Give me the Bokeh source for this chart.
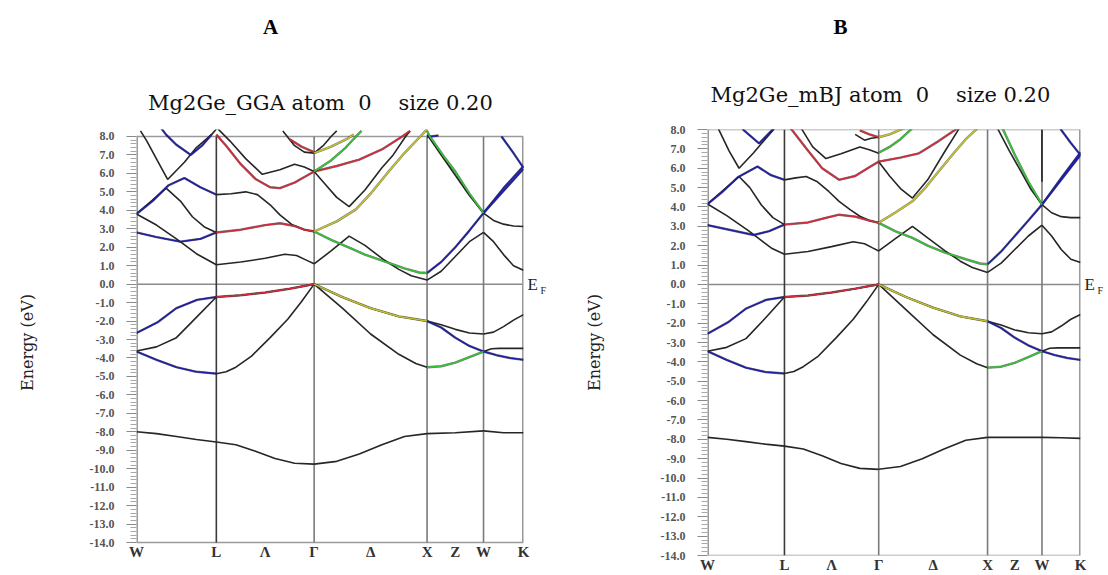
import numpy as np
from bokeh.plotting import figure
from bokeh.layouts import row
from bokeh.models import (Range1d, FixedTicker, LinearAxis, PrintfTickFormatter, Span)
from bokeh.embed import file_html
from bokeh.resources import INLINE

# ---------------- data ----------------
KLABELS = ["W", "L", "Λ", "Γ", "Δ", "X", "Z", "W", "K"]
KPOS = [0.0, 0.707, 1.140, 1.573, 2.073, 2.573, 2.823, 3.073, 3.427]
SEGMENTS = {"WL": (0, 1), "LG": (1, 3), "GX": (3, 5), "XW": (5, 7), "WK": (7, 8)}
SYM_LINES = [0.707, 1.573, 2.573, 3.073]
YTICKS = [float(v) for v in range(-14, 9)]
YMINOR = [v / 5 for v in range(-70, 41) if v % 5 != 0]

TITLES = ["A", "B"]
NB = "\u00a0"
SUBTITLES = ["Mg2Ge_GGA atom" + NB * 2 + "0" + NB * 4 + "size 0.20",
             "Mg2Ge_mBJ atom" + NB * 2 + "0" + NB * 4 + "size 0.20"]
YLABEL = "Energy (eV)"
FERMI = ["E", "F"]

# each piece: (character, fractions along the segment, energies in eV)
GGA_WL = [
    ("k", [0, .25, .5, .75, 1], [-8.0, -8.1, -8.25, -8.42, -8.55]),
    ("b", [0, .27, .5, .76, 1], [-2.65, -2.05, -1.3, -0.85, -0.7]),
    ("k", [0, .25, .5, .75, 1], [-3.62, -3.4, -2.9, -1.8, -0.7]),
    ("b", [0, .25, .5, .75, 1], [-3.65, -4.1, -4.5, -4.75, -4.85]),
    ("k", [0, .25, .5, .75, 1], [3.8, 3.2, 2.45, 1.65, 1.05]),
    ("b", [0, .25, .55, .8, 1], [2.8, 2.55, 2.3, 2.45, 2.8]),
    ("b", [0, .2, .4, .6, .8, 1], [3.8, 4.5, 5.35, 5.75, 5.25, 4.85]),
    ("k", [0, .2, .37, .55, .7, .85, 1], [3.8, 4.55, 5.2, 4.5, 3.65, 3.1, 2.8]),
    ("k", [.05, .13, .26, .39, .6, .75, .94, 1], [8.3, 7.75, 6.7, 5.67, 6.6, 7.4, 8.1, 8.4]),
    ("b", [.3, .37, .5, .68, .82, .94], [8.5, 8.1, 7.55, 7.0, 7.5, 8.1]),
]
GGA_LG = [
    ("k", [0, .2, .4, .6, .8, 1], [-8.55, -8.7, -9.05, -9.45, -9.7, -9.75]),
    ("k", [0, .25, .5, .75, 1], [-0.7, -0.6, -0.45, -0.25, 0.0]),
    ("r", [0, .25, .5, .75, 1], [-0.7, -0.6, -0.45, -0.25, 0.0]),
    ("k", [0, .1, .2, .36, .55, .73, .87, 1], [-4.85, -4.75, -4.5, -3.9, -2.9, -1.9, -0.95, 0.0]),
    ("k", [0, .25, .5, .7, .82, .92, 1], [1.05, 1.2, 1.4, 1.62, 1.55, 1.3, 1.1]),
    ("r", [0, .25, .5, .65, .8, .9, 1], [2.8, 2.95, 3.2, 3.3, 3.15, 2.95, 2.85]),
    ("k", [0, .15, .3, .42, .55, .65, .78, .9, 1], [4.85, 4.9, 5.0, 4.85, 4.3, 3.75, 3.2, 2.95, 2.85]),
    ("k", [0, .14, .3, .47, .65, .8, .9, 1], [8.5, 7.75, 6.8, 5.95, 6.2, 6.5, 6.35, 6.1]),
    ("r", [0, .1, .25, .4, .55, .65, .8, .9, 1], [8.1, 7.5, 6.5, 5.7, 5.25, 5.2, 5.5, 5.8, 6.1]),
    ("k", [.68, .8, .9, 1], [8.3, 7.5, 7.15, 7.1]),
    ("r", [.75, .87, 1], [7.85, 7.45, 7.15]),
]
GGA_GX = [
    ("k", [0, .2, .4, .6, .8, 1], [-9.75, -9.6, -9.2, -8.7, -8.25, -8.1]),
    ("k", [0, .25, .5, .75, 1], [0.0, -0.7, -1.3, -1.75, -2.0]),
    ("y", [0, .25, .5, .75, 1], [0.0, -0.7, -1.3, -1.75, -2.0]),
    ("k", [0, .25, .5, .75, .9, 1], [0.0, -1.3, -2.7, -3.8, -4.3, -4.5]),
    ("k", [0, .15, .31, .45, .61, .75, .86, 1], [1.1, 1.8, 2.6, 2.1, 1.35, 0.8, 0.45, 0.22]),
    ("g", [0, .15, .31, .45, .61, .8, .93, 1], [2.85, 2.4, 1.98, 1.6, 1.26, 0.85, 0.63, 0.6]),
    ("y", [0, .2, .37, .5, .66, .8, .94, 1], [2.85, 3.4, 4.05, 4.9, 6.1, 7.1, 8.0, 8.4]),
    ("k", [0, .1, .2, .31, .45, .6, .7, .81, .85], [6.1, 5.4, 4.7, 4.2, 5.1, 6.3, 7.0, 8.0, 8.3]),
    ("r", [0, .2, .4, .6, .78, .85], [6.1, 6.4, 6.75, 7.3, 8.0, 8.3]),
    ("g", [0, .15, .28, .37, .42], [6.1, 6.7, 7.4, 8.0, 8.3]),
    ("y", [0, .15, .3, .35], [7.1, 7.45, 7.9, 8.1]),
    ("k", [0, .08, .15, .2], [7.1, 7.5, 8.0, 8.3]),
]
GGA_XW = [
    ("k", [0, .5, 1], [-8.1, -8.05, -7.95]),
    ("k", [0, .25, .5, .75, 1], [-2.0, -2.2, -2.45, -2.65, -2.7]),
    ("b", [0, .25, .5, .75, 1], [-2.0, -2.35, -2.9, -3.35, -3.65]),
    ("g", [0, .25, .5, .75, 1], [-4.5, -4.45, -4.25, -3.95, -3.65]),
    ("b", [0, .25, .5, .75, 1], [0.6, 1.2, 2.0, 2.9, 3.85]),
    ("k", [0, .25, .5, .75, 1], [0.22, 0.7, 1.5, 2.3, 2.8]),
    ("g", [0, .05, .3, .5, .75, 1], [8.3, 8.0, 6.9, 6.1, 4.9, 3.85]),
    ("k", [0, .25, .5, .75, 1], [8.1, 7.0, 5.9, 4.8, 3.85]),
    ("b", [0, .2], [7.97, 8.05]),
]
GGA_WK = [
    ("k", [0, .5, 1], [-7.95, -8.05, -8.05]),
    ("k", [0, .25, .5, .75, 1], [-2.7, -2.6, -2.3, -1.95, -1.65]),
    ("k", [0, .2, .4, 1], [-3.65, -3.5, -3.48, -3.48]),
    ("b", [0, .33, .66, 1], [-3.65, -3.85, -4.0, -4.1]),
    ("b", [0, .5, 1], [3.85, 5.05, 6.25]),
    ("b", [0, .5, 1], [3.85, 5.2, 6.4]),
    ("b", [.45, .75, 1], [8.0, 7.1, 6.3]),
    ("k", [0, .25, .5, .75, 1], [3.85, 3.45, 3.25, 3.15, 3.12]),
    ("k", [0, .25, .5, .75, 1], [2.8, 2.3, 1.6, 1.0, 0.75]),
]

MBJ_WL = [
    ("k", [0, .25, .5, .75, 1], [-7.9, -8.0, -8.12, -8.25, -8.35]),
    ("b", [0, .27, .5, .76, 1], [-2.55, -1.95, -1.25, -0.8, -0.65]),
    ("k", [0, .25, .5, .75, 1], [-3.45, -3.25, -2.8, -1.75, -0.65]),
    ("b", [0, .25, .5, .75, 1], [-3.45, -3.9, -4.3, -4.52, -4.6]),
    ("k", [0, .25, .54, .84, 1], [4.15, 3.55, 2.75, 1.85, 1.56]),
    ("b", [0, .25, .6, .8, 1], [3.06, 2.85, 2.55, 2.75, 3.09]),
    ("b", [0, .2, .4, .65, .82, 1], [4.15, 4.8, 5.55, 6.09, 5.65, 5.4]),
    ("k", [0, .2, .41, .55, .7, .85, 1], [4.15, 4.85, 5.57, 5.0, 4.1, 3.45, 3.09]),
    ("k", [.1, .15, .28, .41, .6, .75, .86, .9], [8.4, 7.97, 6.9, 6.0, 6.8, 7.5, 8.0, 8.3]),
    ("b", [.42, .47, .67, .84, .88], [8.3, 7.97, 7.28, 7.97, 8.2]),
]
MBJ_LG = [
    ("k", [0, .2, .4, .6, .8, 1], [-8.35, -8.5, -8.85, -9.25, -9.5, -9.55]),
    ("k", [0, .25, .5, .75, 1], [-0.65, -0.57, -0.42, -0.22, 0.0]),
    ("r", [0, .25, .5, .75, 1], [-0.65, -0.57, -0.42, -0.22, 0.0]),
    ("k", [0, .1, .2, .36, .55, .73, .87, 1], [-4.6, -4.5, -4.25, -3.7, -2.75, -1.8, -0.9, 0.0]),
    ("k", [0, .25, .5, .73, .85, .93, 1], [1.56, 1.7, 1.95, 2.2, 2.1, 1.9, 1.73]),
    ("r", [0, .25, .45, .58, .75, .9, 1], [3.09, 3.2, 3.45, 3.6, 3.5, 3.3, 3.18]),
    ("k", [0, .12, .23, .35, .47, .58, .7, .8, .9, 1], [5.4, 5.5, 5.57, 5.3, 4.8, 4.29, 3.85, 3.52, 3.3, 3.18]),
    ("r", [0, .08, .23, .4, .58, .75, .9, 1], [8.4, 7.97, 7.03, 6.0, 5.4, 5.6, 6.05, 6.34]),
    ("k", [.1, .19, .3, .44, .6, .8, .9, 1], [8.6, 7.97, 7.1, 6.5, 6.75, 7.1, 6.95, 6.77]),
    ("k", [.75, .85, .92, 1], [7.75, 7.45, 7.55, 7.6]),
    ("r", [.8, .9, 1], [7.95, 7.75, 7.6]),
]
MBJ_GX = [
    ("k", [0, .2, .4, .6, .8, 1], [-9.55, -9.4, -9.0, -8.5, -8.05, -7.9]),
    ("k", [0, .25, .5, .75, 1], [0.0, -0.65, -1.2, -1.65, -1.9]),
    ("y", [0, .25, .5, .75, 1], [0.0, -0.65, -1.2, -1.65, -1.9]),
    ("k", [0, .25, .5, .75, .9, 1], [0.0, -1.3, -2.6, -3.65, -4.1, -4.3]),
    ("k", [0, .15, .31, .45, .61, .75, .86, 1], [1.73, 2.35, 3.0, 2.4, 1.73, 1.2, 0.87, 0.62]),
    ("g", [0, .15, .31, .45, .61, .8, .93, 1], [3.18, 2.75, 2.4, 2.0, 1.64, 1.3, 1.08, 1.04]),
    ("y", [0, .15, .31, .43, .55, .7, .8, .89, .95], [3.18, 3.7, 4.29, 5.0, 5.83, 6.85, 7.5, 7.97, 8.3]),
    ("k", [0, .1, .2, .31, .45, .6, .73, .8], [6.34, 5.6, 4.95, 4.46, 5.4, 6.8, 7.97, 8.5]),
    ("r", [0, .2, .37, .55, .7, .76], [6.34, 6.55, 6.77, 7.4, 7.97, 8.2]),
    ("g", [0, .1, .2, .29, .33], [6.8, 7.1, 7.5, 7.97, 8.2]),
    ("y", [0, .1, .19, .25], [7.6, 7.75, 7.97, 8.1]),
]
MBJ_XW = [
    ("k", [0, .5, 1], [-7.9, -7.9, -7.9]),
    ("k", [0, .25, .5, .75, 1], [-1.9, -2.1, -2.35, -2.5, -2.55]),
    ("b", [0, .25, .5, .75, 1], [-1.9, -2.25, -2.75, -3.15, -3.45]),
    ("g", [0, .25, .5, .75, 1], [-4.3, -4.25, -4.05, -3.75, -3.45]),
    ("b", [0, .25, .5, .75, 1], [1.04, 1.7, 2.5, 3.3, 4.12]),
    ("k", [0, .25, .5, .75, 1], [0.62, 1.1, 1.8, 2.5, 3.06]),
    ("g", [.25, .29, .5, .75, 1], [8.2, 7.97, 6.7, 5.3, 4.12]),
    ("k", [.15, .2, .4, .6, .8, 1], [8.3, 7.97, 6.9, 5.9, 4.9, 4.12]),
    ("k", [1, 1], [8.0, 5.3]),
]
MBJ_WK = [
    ("k", [0, .5, 1], [-7.9, -7.92, -7.95]),
    ("k", [0, .25, .5, .75, 1], [-2.55, -2.45, -2.15, -1.8, -1.55]),
    ("k", [0, .2, .4, 1], [-3.45, -3.3, -3.28, -3.28]),
    ("b", [0, .33, .66, 1], [-3.45, -3.65, -3.8, -3.9]),
    ("b", [0, .5, 1], [4.12, 5.4, 6.68]),
    ("b", [0, .5, 1], [4.12, 5.5, 6.82]),
    ("b", [.45, .5, .75, 1], [8.2, 7.97, 7.3, 6.68]),
    ("k", [0, .25, .5, .75, 1], [4.12, 3.7, 3.5, 3.45, 3.45]),
    ("k", [0, .25, .5, .75, 1], [3.06, 2.5, 1.8, 1.3, 1.13]),
]

GGA = {"WL": GGA_WL, "LG": GGA_LG, "GX": GGA_GX, "XW": GGA_XW, "WK": GGA_WK}
MBJ = {"WL": MBJ_WL, "LG": MBJ_LG, "GX": MBJ_GX, "XW": MBJ_XW, "WK": MBJ_WK}

# ---------------- style ----------------
COLORS = {"k": "#262626", "b": "#1f1fa6", "r": "#d42a3c", "g": "#36c236", "y": "#c2c22e"}
SERIF = "Liberation Serif"
WIDE_SERIF = "DejaVu Serif"
EMIN, EMAX = -14.0, 8.0
KMAX = KPOS[-1]
BOX = "#9a9a9a"

# both figures share the same canvas borders (row layouts align them)
FIG_H = 575
TOP, BOTTOM = 129, 18


def text_axis(p, side, x, text, standoff, font, size, style="normal", color="#111111"):
    ax = LinearAxis(ticker=FixedTicker(ticks=[x]), major_label_overrides={x: text},
                    axis_line_color=None, major_tick_line_color=None, minor_tick_line_color=None,
                    major_tick_out=0, major_tick_in=0, minor_tick_out=0, minor_tick_in=0,
                    major_label_standoff=standoff, major_label_text_font=font,
                    major_label_text_font_size=size, major_label_text_font_style=style,
                    major_label_text_color=color)
    p.add_layout(ax, side)
    return ax


def build_panel(bands, width, bl, br, box_top, box_bottom, title, title_x, title_so,
                subtitle, sub_x, sub_so, ylab_so, f_shift):
    frame_h = FIG_H - TOP - BOTTOM
    frame_top = TOP
    frame_bottom = frame_top + frame_h
    # eV per pixel chosen so that EMAX sits at box_top and EMIN at box_bottom (page px)
    epp = (EMAX - EMIN) / (box_bottom - box_top)
    ytop = EMAX + (box_top - frame_top) * epp
    ybot = EMIN - (frame_bottom - box_bottom) * epp

    p = figure(width=width, height=FIG_H, x_range=Range1d(0, KMAX), y_range=Range1d(ybot, ytop),
               output_backend="svg", toolbar_location=None, title=None,
               min_border_left=bl, min_border_right=br, min_border_top=TOP, min_border_bottom=BOTTOM)
    p.xgrid.visible = False
    p.ygrid.visible = False
    p.outline_line_color = None
    p.background_fill_color = "white"
    p.border_fill_color = "white"

    # plot box and symmetry lines in data space
    p.segment(x0=[0.0, KMAX], y0=[EMIN, EMIN], x1=[0.0, KMAX], y1=[EMAX, EMAX],
              line_color=BOX, line_width=3)
    p.segment(x0=[0.0, 0.0], y0=[EMIN, EMAX], x1=[KMAX, KMAX], y1=[EMIN, EMAX],
              line_color=BOX, line_width=1.5)
    p.segment(x0=SYM_LINES, y0=[EMIN] * len(SYM_LINES), x1=SYM_LINES, y1=[EMAX] * len(SYM_LINES),
              line_color=["#3a3a3a"] + ["#7a7a7a"] * (len(SYM_LINES) - 1), line_width=1.6)
    p.add_layout(Span(location=0, dimension="width", line_color="#8a8a8a",
                      line_width=1.5, level="underlay"))

    # bands
    groups = {c: ([], []) for c in COLORS}
    for seg, pieces in bands.items():
        i0, i1 = SEGMENTS[seg]
        x0, x1 = KPOS[i0], KPOS[i1]
        for ch, ts, es in pieces:
            xs = [x0 + t * (x1 - x0) for t in ts]
            groups[ch][0].append(xs)
            groups[ch][1].append(list(es))
    p.multi_line(groups["k"][0], groups["k"][1], line_color=COLORS["k"], line_width=1.6)
    for ch in ["b", "r", "g", "y"]:
        xs, ys = groups[ch]
        if xs:
            p.multi_line(xs, ys, line_color="#202020", line_width=2.4, line_alpha=0.6)
            p.multi_line(xs, ys, line_color=COLORS[ch], line_width=1.6)

    # left axis
    yax = p.yaxis[0]
    yax.ticker = FixedTicker(ticks=YTICKS, minor_ticks=YMINOR)
    yax.formatter = PrintfTickFormatter(format="%.1f")
    yax.major_tick_out = 10
    yax.major_tick_in = 0
    yax.minor_tick_out = 6
    yax.minor_tick_in = 0
    yax.major_label_standoff = 12
    yax.axis_line_color = None
    yax.major_tick_line_color = "#8a8a8a"
    yax.minor_tick_line_color = "#a8a8a8"
    yax.major_label_text_font = SERIF
    yax.major_label_text_font_size = "12px"
    yax.major_label_text_font_style = "bold"
    yax.major_label_text_color = "#555555"
    yax.axis_label = YLABEL
    yax.axis_label_standoff = ylab_so
    yax.axis_label_text_font = WIDE_SERIF
    yax.axis_label_text_font_size = "16px"
    yax.axis_label_text_font_style = "normal"
    yax.axis_label_text_color = "#222222"

    # bottom axis with k-point labels, lifted to sit just under the box
    xax = p.xaxis[0]
    xax.ticker = FixedTicker(ticks=KPOS)
    xax.major_label_overrides = {k: lab for k, lab in zip(KPOS, KLABELS)}
    xax.major_tick_out = 0
    xax.major_tick_in = 0
    xax.minor_tick_out = 0
    xax.minor_tick_in = 0
    xax.major_label_standoff = 1 - (frame_bottom - box_bottom)
    xax.axis_line_color = None
    xax.major_label_text_font = SERIF
    xax.major_label_text_font_size = "15px"
    xax.major_label_text_font_style = "bold"
    xax.major_label_text_color = "#333333"

    # Fermi level marker "E" with subscript "F"
    text_axis(p, "right", 0.0, FERMI[0], 4, SERIF, "17px", color="#222222")
    text_axis(p, "right", f_shift, FERMI[1], 0, SERIF, "10px", color="#222222")

    # subtitle (nearest the frame) and panel letter above it
    text_axis(p, "above", sub_x, subtitle, sub_so, WIDE_SERIF, "21px", color="#111111")
    text_axis(p, "above", title_x, title, title_so, SERIF, "21px", style="bold", color="#000000")
    return p


def kx(px, left, w):
    return round((px - left) / w * KMAX, 3)


# panel A: page x 0..568, box x 136..523, box y 136..544
pA = build_panel(GGA, 568, 136, 45, 136, 544, TITLES[0], kx(270, 136, 387), 49,
                 SUBTITLES[0], kx(320, 136, 387), 15, 50, -0.33)
# panel B: page x 568..1108, box x 707..1080, box y 129..557
pB = build_panel(MBJ, 540, 139, 28, 129, 557, TITLES[1], kx(840, 707, 373), 41,
                 SUBTITLES[1], kx(880, 707, 373), 23, 54, -0.33)

layout = row(pA, pB)
open("out.html", "w").write(file_html(layout, INLINE))
